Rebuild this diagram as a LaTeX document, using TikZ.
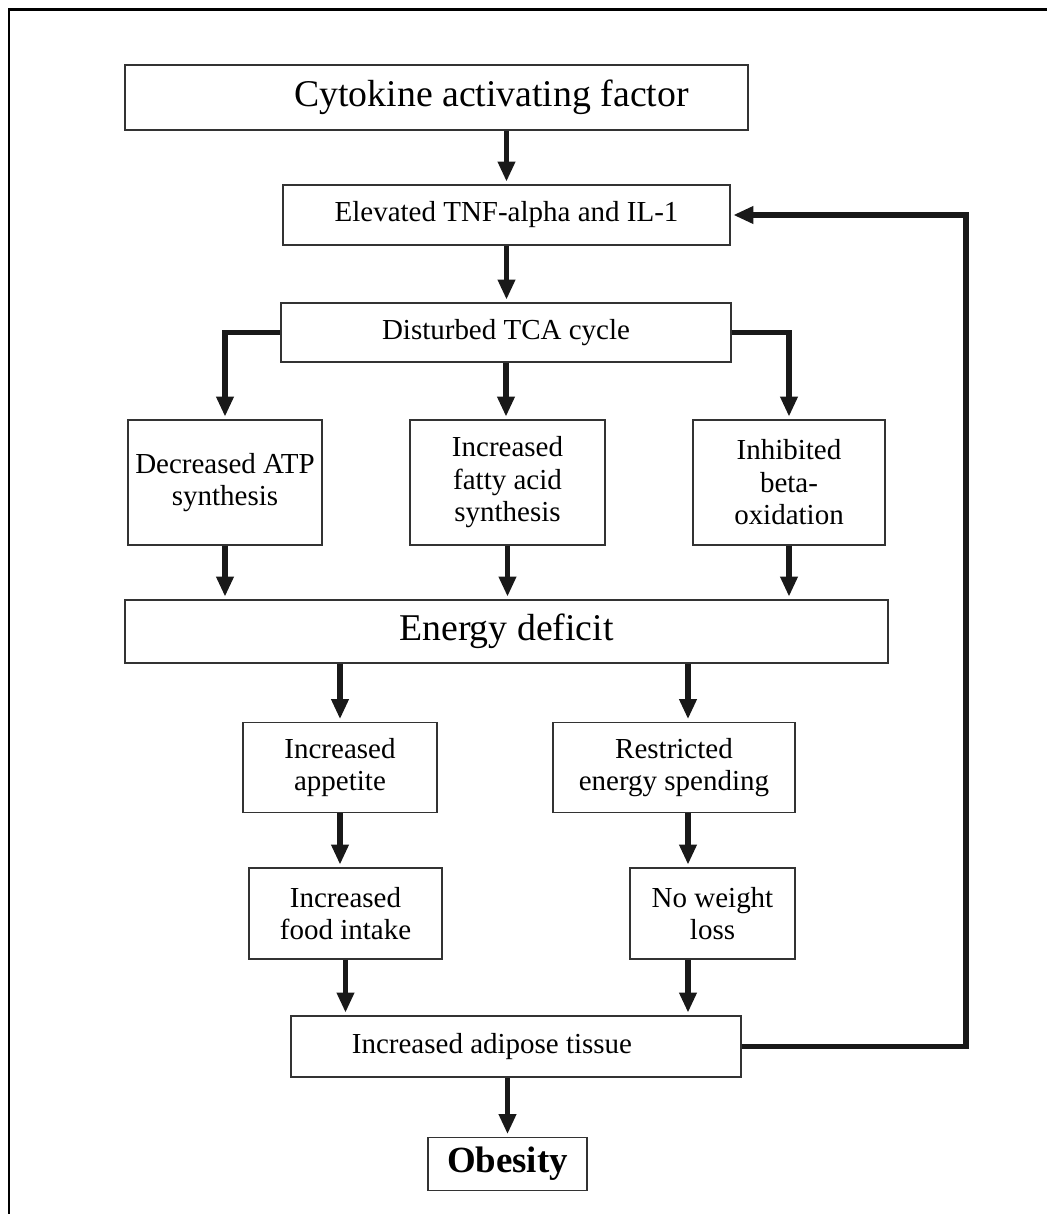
\documentclass[tikz,border=0pt]{standalone}
\usepackage{fontspec}
\setmainfont{Liberation Serif}
\usepackage{tikz}
\usetikzlibrary{arrows.meta}
\tikzset{box/.style={draw=black!80, line width=0.8pt, rectangle, align=center,
    inner sep=0pt, font=\fontsize{16.5}{18.5}\selectfont},
    bigbox/.style={box, font=\fontsize{21.5}{24}\selectfont},
    flow/.style={line width=0.11cm, draw=black!90,
    -{Triangle[width=0.33cm,length=0.4cm]}, shorten >=1.5pt}}

\begin{document}
\begin{tikzpicture}[x=0.02cm, y=-0.02cm,
        every node/.style={text=black}]
    \useasboundingbox (0,0) rectangle (1047,1214);
    \draw[line width=0.06cm] (9,1214) -- (9,9) -- (1047,9);

    \node[bigbox, minimum width=12.46cm, minimum height=1.3cm] (cyto) at (436.5,97.5)
        {\hspace*{2.2cm}Cytokine activating factor};
    \node[box, minimum width=8.94cm, minimum height=1.2cm] (tnf) at (506.5,215)
        {Elevated TNF-alpha and IL-1};
    \node[box, minimum width=9cm, minimum height=1.18cm] (tca) at (506,332.5)
        {Disturbed TCA cycle};
    \node[box, minimum width=3.88cm, minimum height=2.5cm] (atp) at (225,482.5)
        {Decreased ATP\\synthesis};
    \node[box, minimum width=3.9cm, minimum height=2.5cm] (fatty) at (507.5,482.5)
        {Increased\\fatty acid\\synthesis};
    \node[box, minimum width=3.84cm, minimum height=2.5cm] (beta) at (789,482.5)
        {Inhibited\\beta-\\oxidation};
    \node[bigbox, minimum width=15.26cm, minimum height=1.26cm] (deficit) at (506.5,631.5)
        {Energy deficit};
    \node[box, minimum width=3.88cm, minimum height=1.8cm] (appetite) at (340,767.5)
        {Increased\\appetite};
    \node[box, minimum width=4.84cm, minimum height=1.8cm] (spending) at (674,767.5)
        {Restricted\\energy spending};
    \node[box, minimum width=3.86cm, minimum height=1.82cm] (food) at (345.5,913.5)
        {Increased\\food intake};
    \node[box, minimum width=3.3cm, minimum height=1.82cm] (weight) at (712.5,913.5)
        {No weight\\loss};
    \node[box, minimum width=9cm, minimum height=1.22cm] (adipose) at (516,1046.5)
        {Increased adipose tissue\hspace*{0.96cm}};
    \node[box, minimum width=3.18cm, minimum height=1.06cm,
        font=\fontsize{21}{24}\selectfont\bfseries] (obesity) at (507.5,1164)
        {Obesity};

    \coordinate (rcol) at (688,0);
    \coordinate (loop) at (966,0);

    \draw[flow] (cyto.south -| tnf.north) -- (tnf.north);
    \draw[flow] (tnf.south) -- (tnf.south |- tca.north);
    \draw[flow] (tca.west) -| (atp.north);
    \draw[flow] (tca.south) -- (tca.south |- fatty.north);
    \draw[flow] (tca.east) -| (beta.north);
    \draw[flow] (atp.south) -- (atp.south |- deficit.north);
    \draw[flow] (fatty.south) -- (fatty.south |- deficit.north);
    \draw[flow] (beta.south) -- (beta.south |- deficit.north);
    \draw[flow] (deficit.south -| appetite.north) -- (appetite.north);
    \draw[flow] (rcol |- deficit.south) -- (rcol |- spending.north);
    \draw[flow] (appetite.south) -- (appetite.south |- food.north);
    \draw[flow] (rcol |- spending.south) -- (rcol |- weight.north);
    \draw[flow] (food.south) -- (food.south |- adipose.north);
    \draw[flow] (rcol |- weight.south) -- (rcol |- adipose.north);
    \draw[flow] (adipose.south -| obesity.north) -- (obesity.north);
    \draw[flow] (adipose.east) -| (loop |- tnf.east) -- (tnf.east);
\end{tikzpicture}
\end{document}
